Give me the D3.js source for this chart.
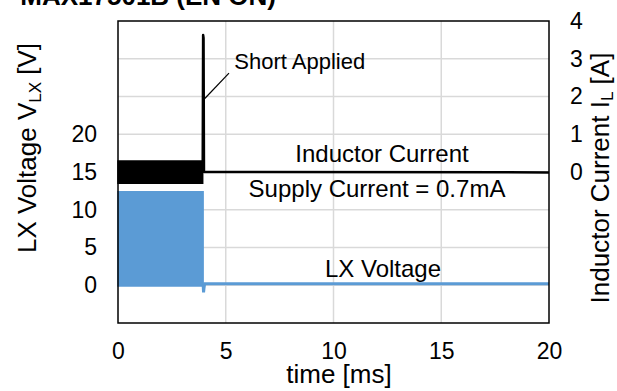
<!DOCTYPE html>
<html>
<head>
<meta charset="utf-8">
<script src="https://cdn.jsdelivr.net/npm/d3@7/dist/d3.min.js"></script>
<style>
  html, body { margin: 0; padding: 0; background: #fff; }
  svg { display: block; font-family: "Liberation Sans", Arial, sans-serif; }
</style>
</head>
<body>
<svg id="chart" width="617" height="391"></svg>
<script>
// ---- data ----
const xTicks = [0, 5, 10, 15, 20];
const leftTicks = [0, 5, 10, 15, 20];
const rightTicks = [0, 1, 2, 3, 4];
const gridValues = [0, 5, 10, 15, 20, 25, 30];

// LX voltage: switching envelope (0 – 3.95 ms)
const lxSwitchTime = [0, 3.95];
const lxSwitchHigh = [12.4, 12.4];
const lxSwitchLow = [-0.1, -0.1];
// LX voltage after the short
const lxAfterTime = [3.95, 3.97, 3.99, 4.02, 20];
const lxAfterVolt = [0.15, -0.95, -0.4, 0.2, 0.2];

// Inductor current: switching envelope (0 – 3.93 ms)
const ilSwitchTime = [0, 3.93];
const ilSwitchHigh = [0.29, 0.29];
const ilSwitchLow = [-0.3, -0.3];
// Inductor current at / after the short
const ilAfterTime = [3.93, 3.95, 3.97, 3.99, 20];
const ilAfterAmp = [0.0, 3.63, 3.55, 0.0, -0.01];

const labels = {
  title: "MAX17501B (EN ON)",
  xTitle: "time [ms]",
  short: "Short Applied",
  il: "Inductor Current",
  supply: "Supply Current = 0.7mA",
  lx: "LX Voltage"
};

// ---- layout ----
const svg = d3.select("#chart");
const L = 118, R = 549, T = 21, B = 323;
const FS = 23;      // tick labels
const FT = 26;      // axis titles
const FA = 24;      // in-plot annotations
const x = d3.scaleLinear().domain([0, 20]).range([L, R]);
const yL = d3.scaleLinear().domain([-5, 35]).range([B, T]);
const yR = d3.scaleLinear().domain([-4, 4]).range([B, T]);

// title (cut off at top)
svg.append("text").attr("x", 276).attr("y", 5).attr("text-anchor", "end")
  .attr("font-size", 26).attr("font-weight", "bold").attr("fill", "#000").text(labels.title);

// gridlines
svg.append("g").selectAll("line").data(gridValues).join("line")
  .attr("x1", L).attr("x2", R).attr("y1", d => yL(d)).attr("y2", d => yL(d))
  .attr("stroke", "#d9d9d9").attr("stroke-width", 1.5);
svg.append("g").selectAll("line").data(xTicks.slice(1, -1)).join("line")
  .attr("y1", T).attr("y2", B).attr("x1", d => x(d)).attr("x2", d => x(d))
  .attr("stroke", "#d9d9d9").attr("stroke-width", 1.5);

const blue = "#5B9BD5";
// LX voltage band
const lxBand = lxSwitchTime.map((t, i) => ({t, hi: lxSwitchHigh[i], lo: lxSwitchLow[i]}));
svg.append("path").datum(lxBand)
  .attr("d", d3.area().x(d => x(d.t)).y0(d => yL(d.lo)).y1(d => yL(d.hi)))
  .attr("fill", blue).attr("stroke", blue).attr("stroke-width", 1.5);
svg.append("path").datum(lxAfterTime.map((t, i) => [t, lxAfterVolt[i]]))
  .attr("d", d3.line().x(d => x(d[0])).y(d => yL(d[1])))
  .attr("fill", "none").attr("stroke", blue).attr("stroke-width", 3);

// Inductor current band
const ilBand = ilSwitchTime.map((t, i) => ({t, hi: ilSwitchHigh[i], lo: ilSwitchLow[i]}));
svg.append("path").datum(ilBand)
  .attr("d", d3.area().x(d => x(d.t)).y0(d => yR(d.lo)).y1(d => yR(d.hi)))
  .attr("fill", "#000").attr("stroke", "#000").attr("stroke-width", 1.5);
svg.append("path").datum(ilAfterTime.map((t, i) => [t, ilAfterAmp[i]]))
  .attr("d", d3.line().x(d => x(d[0])).y(d => yR(d[1])))
  .attr("fill", "none").attr("stroke", "#000").attr("stroke-width", 2.5)
  .attr("stroke-linejoin", "round");

// plot border
svg.append("rect").attr("x", L).attr("y", T).attr("width", R - L).attr("height", B - T)
  .attr("fill", "none").attr("stroke", "#000").attr("stroke-width", 1.5);

// axes (labels only)
const axB = d3.axisBottom(x).tickValues(xTicks).tickSize(0).tickPadding(20);
const gB = svg.append("g").attr("transform", `translate(0,${B})`).call(axB);
const axLf = d3.axisLeft(yL).tickValues(leftTicks).tickSize(0).tickPadding(21);
const gL = svg.append("g").attr("transform", `translate(${L},0)`).call(axLf);
const axRt = d3.axisRight(yR).tickValues(rightTicks).tickSize(0).tickPadding(21);
const gR = svg.append("g").attr("transform", `translate(${R},0)`).call(axRt);
[gB, gL, gR].forEach(g => {
  g.select(".domain").remove();
  g.selectAll("text").attr("font-size", FS).attr("fill", "#000")
    .attr("font-family", "Liberation Sans, Arial, sans-serif");
});

// axis titles
svg.append("text").attr("x", 339).attr("y", 383).attr("text-anchor", "middle")
  .attr("font-size", FT).text(labels.xTitle);
const lt = svg.append("text").attr("transform", "translate(36,148) rotate(-90)")
  .attr("text-anchor", "middle").attr("font-size", FT);
lt.append("tspan").text("LX Voltage V");
lt.append("tspan").attr("font-size", 17).attr("dy", 5).text("LX");
lt.append("tspan").attr("dy", -5).text(" [V]");
const rt = svg.append("text").attr("transform", "translate(609,178) rotate(-90)")
  .attr("text-anchor", "middle").attr("font-size", FT);
rt.append("tspan").text("Inductor Current I");
rt.append("tspan").attr("font-size", 17).attr("dy", 4).text("L");
rt.append("tspan").attr("dy", -4).text(" [A]");

// annotations
svg.append("line").attr("x1", x(3.95)).attr("y1", yR(1.9)).attr("x2", x(5.15)).attr("y2", yR(2.62))
  .attr("stroke", "#000").attr("stroke-width", 1.2);
svg.append("text").attr("x", x(5.4)).attr("y", 69).attr("font-size", 22).text(labels.short);
svg.append("text").attr("x", 382).attr("y", 162).attr("text-anchor", "middle").attr("font-size", FA).text(labels.il);
svg.append("text").attr("x", 377).attr("y", 197).attr("text-anchor", "middle").attr("font-size", FA).text(labels.supply);
svg.append("text").attr("x", 383).attr("y", 277).attr("text-anchor", "middle").attr("font-size", FA).text(labels.lx);
</script>
</body>
</html>
